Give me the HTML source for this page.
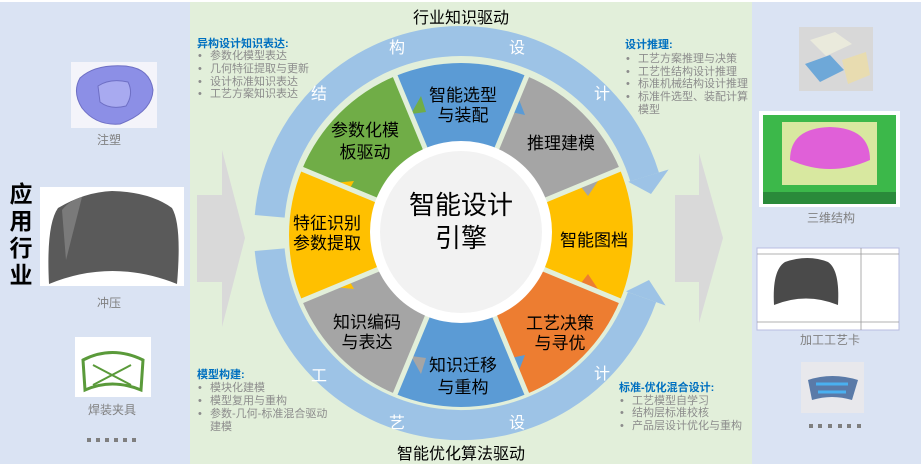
<!DOCTYPE html>
<html><head><meta charset="utf-8">
<style>
html,body{margin:0;padding:0;background:#fff;}
svg{display:block;font-family:"Liberation Sans","Noto Sans CJK SC",sans-serif;}
</style></head>
<body>
<svg width="921" height="466" viewBox="0 0 921 466" xmlns="http://www.w3.org/2000/svg">
<rect x="0" y="2" width="190" height="462" fill="#dae3f3"/>
<rect x="190" y="2" width="562" height="462" fill="#e2efda"/>
<rect x="752" y="2" width="169" height="462" fill="#dae3f3"/>

<polygon points="197,195 222,195 222,150 245,238 222,327 222,282 197,282" fill="#d9d9d9"/>
<polygon points="675,195 699,195 699,153 723,238 699,323 699,282 675,282" fill="#d9d9d9"/>

<path d="M269.7 216.3 A192 192 0 0 1 644.6 176.9" fill="none" stroke="#9dc3e6" stroke-width="30"/>
<polygon points="628.3,181.8 668.6,169.5 651,194" fill="#9dc3e6"/>
<path d="M269.7 249.7 A192 192 0 0 0 642.0 297.1" fill="none" stroke="#9dc3e6" stroke-width="30"/>
<polygon points="626,291.4 665.6,305.5 649,280" fill="#9dc3e6"/>
<g fill="#fff" font-size="16" text-anchor="middle">
<text x="319" y="99">结</text>
<text x="397" y="53">构</text>
<text x="517" y="53">设</text>
<text x="602" y="99">计</text>
<text x="319" y="381">工</text>
<text x="397" y="428">艺</text>
<text x="517" y="428">设</text>
<text x="602" y="379">计</text>
</g>

<path d="M461 235 L395.2 76.1 A172 172 0 0 1 526.8 76.1 Z" fill="#5b9bd5"/>
<path d="M461 235 L526.8 76.1 A172 172 0 0 1 619.9 169.2 Z" fill="#a5a5a5"/>
<path d="M461 235 L619.9 169.2 A172 172 0 0 1 619.9 300.8 Z" fill="#ffc000"/>
<path d="M461 235 L619.9 300.8 A172 172 0 0 1 526.8 393.9 Z" fill="#ed7d31"/>
<path d="M461 235 L526.8 393.9 A172 172 0 0 1 395.2 393.9 Z" fill="#5b9bd5"/>
<path d="M461 235 L395.2 393.9 A172 172 0 0 1 302.1 300.8 Z" fill="#a5a5a5"/>
<path d="M461 235 L302.1 300.8 A172 172 0 0 1 302.1 169.2 Z" fill="#ffc000"/>
<path d="M461 235 L302.1 169.2 A172 172 0 0 1 395.2 76.1 Z" fill="#70ad47"/>

<polygon points="411,114 421,96 426,112" fill="#70ad47"/>
<polygon points="511,112 518,97 525,115" fill="#5b9bd5"/>
<polygon points="578,183 598,181 588,196" fill="#a5a5a5"/>
<polygon points="578,287 598,289 588,274" fill="#ed7d31"/>
<polygon points="511,358 518,373 525,355" fill="#5b9bd5"/>
<polygon points="411,356 421,374 426,358" fill="#a5a5a5"/>
<polygon points="334,287 344,271 354,289" fill="#ffc000"/>
<polygon points="334,183 344,199 354,181" fill="#ffc000"/>

<g stroke="#e2efda" stroke-width="5">
<line x1="461" y1="235" x2="527.6" y2="74.2"/>
<line x1="461" y1="235" x2="621.8" y2="168.4"/>
<line x1="461" y1="235" x2="621.8" y2="301.6"/>
<line x1="461" y1="235" x2="527.6" y2="395.8"/>
<line x1="461" y1="235" x2="394.4" y2="395.8"/>
<line x1="461" y1="235" x2="300.2" y2="301.6"/>
<line x1="461" y1="235" x2="300.2" y2="168.4"/>
<line x1="461" y1="235" x2="394.4" y2="74.2"/>
</g>

<circle cx="461" cy="232" r="91" fill="#fff"/>
<circle cx="461" cy="232" r="81" fill="#f2f2f2"/>
<g font-size="26" text-anchor="middle" fill="#000">
<text x="461" y="214">智能设计</text>
<text x="461" y="247">引擎</text>
</g>

<g font-size="17" text-anchor="middle" fill="#000">
<text x="463" y="101">智能选型</text><text x="463" y="121">与装配</text>
<text x="365" y="136">参数化模</text><text x="365" y="158">板驱动</text>
<text x="561" y="149">推理建模</text>
<text x="594" y="246">智能图档</text>
<text x="560" y="329">工艺决策</text><text x="560" y="349">与寻优</text>
<text x="463" y="371">知识迁移</text><text x="463" y="393">与重构</text>
<text x="367" y="328">知识编码</text><text x="367" y="348">与表达</text>
<text x="327" y="229">特征识别</text><text x="327" y="249">参数提取</text>
</g>

<g font-size="16" text-anchor="middle" fill="#000">
<text x="461" y="23">行业知识驱动</text>
<text x="461" y="459">智能优化算法驱动</text>
</g>

<g font-size="11">
<text x="197" y="47" fill="#0070c0" font-weight="bold">异构设计知识表达:</text>
<g fill="#8c8c8c">
<text x="198" y="59">•</text><text x="210" y="59">参数化模型表达</text>
<text x="198" y="72">•</text><text x="210" y="72">几何特征提取与更新</text>
<text x="198" y="85">•</text><text x="210" y="85">设计标准知识表达</text>
<text x="198" y="97">•</text><text x="210" y="97">工艺方案知识表达</text>
</g>
<text x="625" y="48" fill="#0070c0" font-weight="bold">设计推理:</text>
<g fill="#8c8c8c">
<text x="626" y="62">•</text><text x="638" y="62">工艺方案推理与决策</text>
<text x="626" y="75">•</text><text x="638" y="75">工艺性结构设计推理</text>
<text x="626" y="87">•</text><text x="638" y="87">标准机械结构设计推理</text>
<text x="626" y="100">•</text><text x="638" y="100">标准件选型、装配计算</text>
<text x="638" y="113">模型</text>
</g>
<text x="197" y="378" fill="#0070c0" font-weight="bold">模型构建:</text>
<g fill="#8c8c8c">
<text x="198" y="391">•</text><text x="210" y="391">模块化建模</text>
<text x="198" y="404">•</text><text x="210" y="404">模型复用与重构</text>
<text x="198" y="417">•</text><text x="210" y="417">参数-几何-标准混合驱动</text>
<text x="210" y="430">建模</text>
</g>
<text x="619" y="391" fill="#0070c0" font-weight="bold">标准-优化混合设计:</text>
<g fill="#8c8c8c">
<text x="620" y="404">•</text><text x="632" y="404">工艺模型自学习</text>
<text x="620" y="416">•</text><text x="632" y="416">结构层标准校核</text>
<text x="620" y="429">•</text><text x="632" y="429">产品层设计优化与重构</text>
</g>
</g>

<g font-size="23" font-weight="bold" fill="#000" text-anchor="middle">
<text x="21" y="202">应</text>
<text x="21" y="229">用</text>
<text x="21" y="256">行</text>
<text x="21" y="283">业</text>
</g>
<rect x="71" y="62" width="86" height="66" fill="#f4f4fa"/>
<path d="M80 78 Q95 64 125 66 Q150 68 153 90 Q152 112 120 124 Q96 126 82 108 Q72 92 80 78 Z" fill="#8c8fe6" stroke="#6e6fc4"/>
<path d="M98 86 Q110 78 128 82 Q134 94 126 106 Q110 110 100 102 Z" fill="#a8aaf0" stroke="#6e6fc4"/>
<text x="109" y="144" font-size="12" fill="#808080" text-anchor="middle">注塑</text>
<rect x="40" y="187" width="144" height="99" fill="#fff"/>
<path d="M49 284 Q46 225 58 208 Q85 192 112 191 Q150 192 172 208 Q182 225 177 284 Q112 258 49 284 Z" fill="#5a5a5a"/>
<path d="M62 210 Q70 200 82 197 L66 260 Z" fill="#7a7a7a"/>
<text x="109" y="307" font-size="12" fill="#808080" text-anchor="middle">冲压</text>
<rect x="75" y="337" width="76" height="60" fill="#fff"/>
<path d="M83 360 Q112 345 143 360 L141 390 Q112 378 85 390 Z" fill="none" stroke="#5a9a3a" stroke-width="3"/>
<path d="M93 365 L131 385 M131 365 L93 385" stroke="#5a9a3a" stroke-width="2"/>
<text x="112" y="414" font-size="12" fill="#808080" text-anchor="middle">焊装夹具</text>
<g fill="#7f7f7f">
<rect x="87" y="438" width="4" height="4"/><rect x="96" y="438" width="4" height="4"/><rect x="105" y="438" width="4" height="4"/><rect x="114" y="438" width="4" height="4"/><rect x="123" y="438" width="4" height="4"/><rect x="132" y="438" width="4" height="4"/>
</g>

<rect x="799" y="27" width="74" height="64" fill="#d8d8d8"/>
<polygon points="810,40 835,32 852,44 826,56" fill="#eaeadc"/>
<polygon points="805,64 830,55 844,70 820,82" fill="#6ea8d8"/>
<polygon points="842,60 866,52 870,75 848,84" fill="#e8dcb0"/>
<rect x="759" y="111" width="141" height="96" fill="#fff"/>
<rect x="763" y="115" width="133" height="80" fill="#3cb84a"/>
<rect x="782" y="122" width="95" height="63" fill="#d8e8a0"/>
<path d="M790 160 Q790 128 830 127 Q870 128 870 160 Q830 178 790 160 Z" fill="#e060d8"/>
<rect x="763" y="192" width="133" height="12" fill="#2a8a3a"/>
<text x="831" y="222" font-size="12" fill="#808080" text-anchor="middle">三维结构</text>
<rect x="757" y="248" width="142" height="82" fill="#fff" stroke="#b8bce0"/>
<line x1="757" y1="254" x2="899" y2="254" stroke="#999" stroke-width="0.8"/>
<line x1="861" y1="248" x2="861" y2="330" stroke="#999" stroke-width="0.8"/>
<line x1="757" y1="322" x2="899" y2="322" stroke="#999" stroke-width="0.8"/>
<path d="M774 305 Q772 270 785 262 Q808 254 828 262 Q840 270 838 305 Q806 292 774 305 Z" fill="#4a4a4a"/>
<text x="830" y="344" font-size="12" fill="#808080" text-anchor="middle">加工工艺卡</text>
<rect x="801" y="362" width="63" height="51" fill="#e8e8ec"/>
<path d="M808 380 Q832 372 858 380 L852 400 Q832 394 812 400 Z" fill="#5a7aa8"/>
<path d="M816 384 L848 384 M818 392 L846 392" stroke="#4ab0f0" stroke-width="3"/>
<g fill="#7f7f7f">
<rect x="809" y="424" width="4" height="4"/><rect x="818" y="424" width="4" height="4"/><rect x="828" y="424" width="4" height="4"/><rect x="838" y="424" width="4" height="4"/><rect x="847" y="424" width="4" height="4"/><rect x="857" y="424" width="4" height="4"/>
</g>
</svg>
</body></html>
